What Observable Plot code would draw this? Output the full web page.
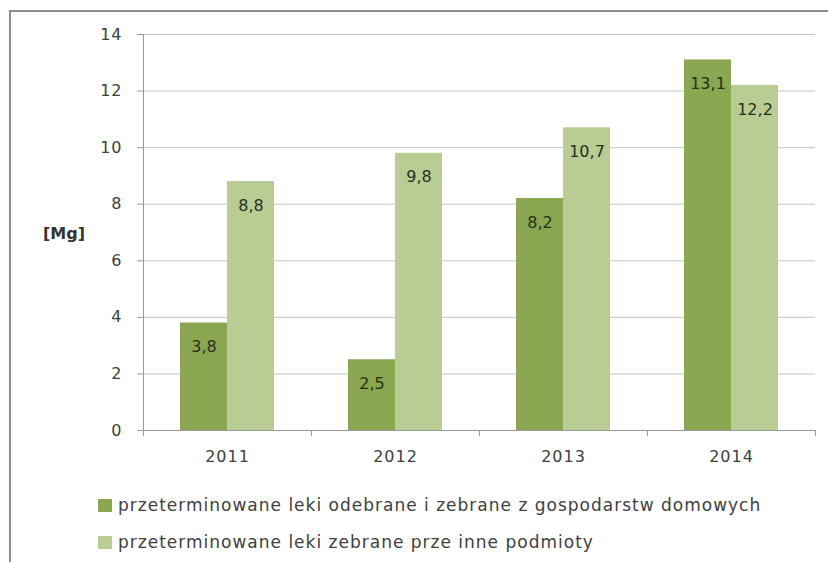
<!DOCTYPE html>
<html>
<head>
<meta charset="utf-8">
<script src="https://cdn.jsdelivr.net/npm/d3@7"></script>
<script src="https://cdn.jsdelivr.net/npm/@observablehq/plot@0.6"></script>
<style>
  html, body { margin: 0; padding: 0; background: #fff; }
  #wrap { position: relative; width: 828px; height: 562px; overflow: hidden; font-family: "DejaVu Sans", sans-serif; }
  #box { position: absolute; left: 9px; top: 10px; width: 900px; height: 600px; border-left: 2px solid #8e8e8e; border-top: 2px solid #8e8e8e; }
  #chart { position: absolute; left: 0; top: 0; }
  #ylabel { position: absolute; left: 43px; top: 223px; font-size: 16px; font-weight: bold; color: #333; line-height: 22px; }
  .leg { position: absolute; left: 98px; font-size: 17px; line-height: 20px; color: #404040; letter-spacing: 1px; white-space: nowrap; display: flex; align-items: center; }
  .leg span.sw { display: inline-block; width: 14px; height: 13px; margin-right: 6px; }
</style>
</head>
<body>
<div id="wrap">
  <div id="box"></div>
  <div id="chart"></div>
  <div id="ylabel">[Mg]</div>
  <div id="legend"></div>
</div>
<script>
const years = ["2011", "2012", "2013", "2014"];
const households = [3.8, 2.5, 8.2, 13.1];
const others = [8.8, 9.8, 10.7, 12.2];
const seriesNames = [
  "przeterminowane leki odebrane i zebrane z gospodarstw domowych",
  "przeterminowane leki zebrane prze inne podmioty"
];
const yTicks = [0, 2, 4, 6, 8, 10, 12, 14];
const colors = ["#8aa650", "#b8cc94"];

const rowsA = years.map((y, i) => ({year: y, series: seriesNames[0], value: households[i]}));
const rowsB = years.map((y, i) => ({year: y, series: seriesNames[1], value: others[i]}));
const fmt = v => String(v.toFixed(1)).replace(".", ",");
const axisColor = "#9a9a9a";

const plot = Plot.plot({
  width: 828,
  height: 470,
  marginLeft: 143,
  marginRight: 13,
  marginTop: 34,
  marginBottom: 40,
  style: {fontFamily: "DejaVu Sans, sans-serif", fontSize: "16px", color: "#404040", background: "transparent"},
  x: {type: "band", domain: years, padding: 0, label: null},
  y: {domain: [0, 14], label: null},
  marks: [
    Plot.gridY(yTicks, {stroke: "#c4c4c4", strokeOpacity: 1}),
    Plot.barY(rowsA, {x: "year", y: "value", fill: colors[0], insetLeft: 37, insetRight: 84}),
    Plot.barY(rowsB, {x: "year", y: "value", fill: colors[1], insetLeft: 84, insetRight: 37}),
    Plot.text(rowsA, {x: "year", y: "value", text: d => fmt(d.value), dx: -23.5, dy: 24, fill: "#25311a", fontSize: 16}),
    Plot.text(rowsB, {x: "year", y: "value", text: d => fmt(d.value), dx: 23.5, dy: 24, fill: "#25311a", fontSize: 16}),
    Plot.ruleY([0], {stroke: axisColor}),
    Plot.ruleX([years[0]], {dx: -84, stroke: axisColor}),
    Plot.ruleX(years, {x: d => d, y1: 0, y2: 0, dx: -84, insetBottom: -6, stroke: axisColor}),
    Plot.ruleX([years[years.length - 1]], {x: d => d, y1: 0, y2: 0, dx: 84, insetBottom: -6, stroke: axisColor}),
    Plot.axisY(yTicks, {tickSize: 6, tickPadding: 15, stroke: axisColor, fill: "#404040", fontSize: 16, label: null}),
    Plot.axisX({tickSize: 0, tickPadding: 20, fill: "#404040", fontSize: 16, label: null})
  ]
});
plot.querySelectorAll("g[aria-label='x-axis tick label'] text, g[aria-label='y-axis tick label'] text").forEach(t => t.setAttribute("letter-spacing", "1"));
document.getElementById("chart").appendChild(plot);

const legend = document.getElementById("legend");
const legendTops = [495, 532];
seriesNames.forEach((name, i) => {
  const row = document.createElement("div");
  row.className = "leg";
  row.style.top = legendTops[i] + "px";
  const sw = document.createElement("span");
  sw.className = "sw";
  sw.style.background = colors[i];
  row.appendChild(sw);
  row.appendChild(document.createTextNode(name));
  legend.appendChild(row);
});
</script>
</body>
</html>
